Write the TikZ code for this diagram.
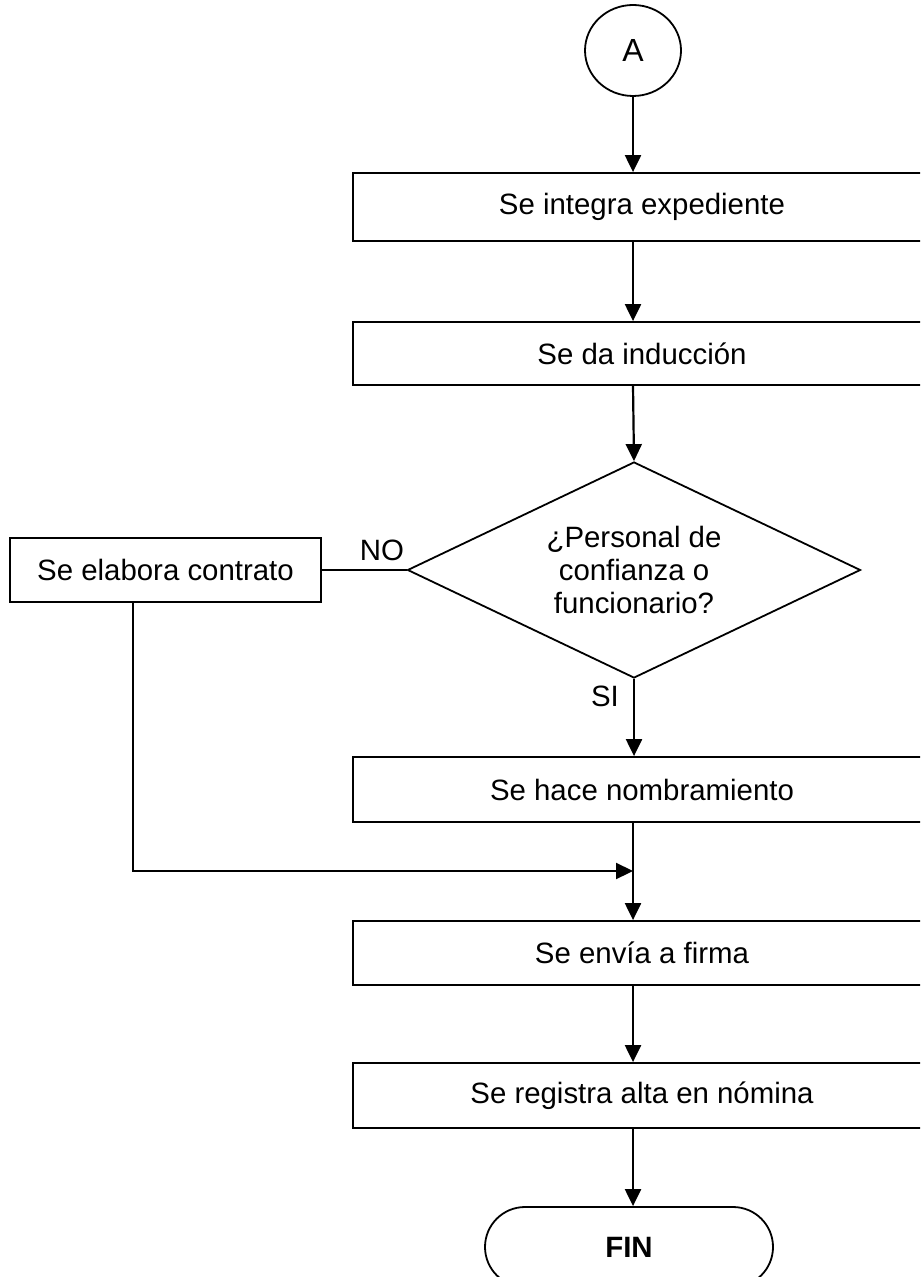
\documentclass[tikz,border=0pt]{standalone}
\usepackage{fontspec}
\setmainfont{Liberation Sans}
\usetikzlibrary{arrows.meta,shapes.geometric,shapes.misc}
\begin{document}
\begin{tikzpicture}[x=0.5pt,y=-0.5pt,line join=miter,>={Triangle[length=8.5pt,width=8pt]},line width=0.9pt]
			\tikzset{every node/.style={font=\fontsize{14.7}{16.5}\selectfont},
				proc/.style={draw,rectangle,minimum width=289pt,inner sep=0pt},
				decis/.style={draw,diamond,aspect=2.097,minimum width=226.5pt,minimum height=108pt,inner sep=0pt,align=center},
				conn/.style={draw,ellipse,minimum width=48pt,minimum height=45.5pt,inner sep=0pt},
				term/.style={draw,rounded rectangle,minimum width=144pt,minimum height=40pt,inner sep=0pt},
				flow/.style={->,line width=1.1pt}}
			\clip (0,0) rectangle (920,1277);
			\node[conn,font=\fontsize{16}{18}\selectfont] (A) at (633,50.5) {A};
			\node[proc,minimum height=34pt] (integra) at (642,207) {Se integra expediente};
			\node[proc,minimum height=31.5pt] (induc) at (642,353.5) {Se da inducción};
			\node[decis] (pers) at (634,570) {¿Personal de\\confianza o\\funcionario?};
			\node[draw,rectangle,minimum width=155.5pt,minimum height=32pt,inner sep=0pt] (contr) at (165.5,570) {Se elabora contrato};
			\node[proc,minimum height=32.5pt] (nomb) at (642,789.5) {Se hace nombramiento};
			\node[proc,minimum height=32pt] (firma) at (642,953) {Se envía a firma};
			\node[proc,minimum height=32.5pt] (alta) at (642,1095.5) {Se registra alta en nómina};
			\node[term] (fin) at (629,1247) {\textbf{FIN}};
			\node (no) at (382,550) {NO};
			\node (si) at (605,696) {SI};
			\coordinate (lout) at ([xshift=-16.25pt]contr.south);
			\coordinate (join) at (633,871);
			\draw[flow] (A.south) -- (A.south |- integra.north);
			\draw[flow] (integra.south -| A) -- (induc.north -| A);
			\draw[flow] (induc.south -| A) -- (pers.north);
			\draw (pers.west) -- (contr.east);
			\draw[flow] (pers.south) -- (pers.south |- nomb.north);
			\draw[line width=1.1pt] (nomb.south -| join) -- (join);
			\draw[flow] (lout) |- (join);
			\draw[flow] (join) -- (join |- firma.north);
			\draw[flow] (firma.south -| A) -- (alta.north -| A);
			\draw[flow] (alta.south -| A) -- (fin.north -| A);
		\end{tikzpicture}
\end{document}
